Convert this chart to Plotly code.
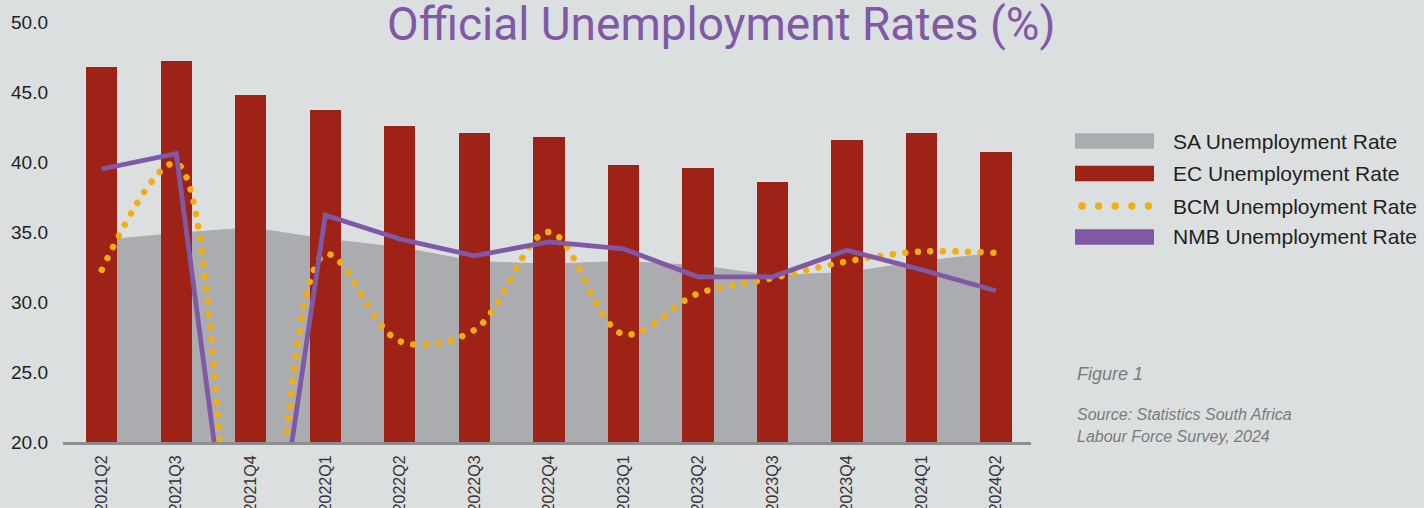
import plotly.graph_objects as go

# ---------------- data ----------------
quarters = ["2021Q2", "2021Q3", "2021Q4", "2022Q1", "2022Q2", "2022Q3", "2022Q4",
            "2023Q1", "2023Q2", "2023Q3", "2023Q4", "2024Q1", "2024Q2"]
sa_rate = [34.4, 34.9, 35.3, 34.5, 33.9, 32.9, 32.7, 32.9, 32.6, 31.9, 32.1, 32.9, 33.5]
ec_rate = [46.8, 47.2, 44.8, 43.7, 42.6, 42.1, 41.8, 39.8, 39.6, 38.6, 41.6, 42.1, 40.7]
bcm_rate = [32.3, 39.9, 0.0, 33.4, 27.2, 28.0, 35.0, 27.7, 30.6, 31.7, 32.9, 33.6, 33.5]
nmb_rate = [39.5, 40.6, 0.0, 36.2, 34.5, 33.3, 34.3, 33.8, 31.8, 31.8, 33.7, 32.3, 30.8]
y_ticks = [20, 25, 30, 35, 40, 45, 50]
legend_labels = ["SA Unemployment Rate", "EC Unemployment Rate",
                 "BCM Unemployment Rate", "NMB Unemployment Rate"]
title_text = "Official Unemployment Rates (%)"
note_text = "Figure 1"
source_lines = ["Source: Statistics South Africa", "Labour Force Survey, 2024"]

# ---------------- style ----------------
BG = "#DCDFE0"
GREY = "#ABACAF"
RED = "#9E2316"
ORANGE = "#F2AE0E"
PURPLE = "#7F59A5"
FONT = "Liberation Sans, Arial, sans-serif"

W, H = 1424, 508
L, R, T, B = 63, 393, 22, 66
PW, PH = W - L - R, H - T - B
XR = [-0.52, 12.47]
YR = [20, 50]


def px(x):
    return (x - L) / PW


def py(y):
    return (H - B - y) / PH


fig = go.Figure()

# SA area on base axes (drawn under bars)
fig.add_trace(go.Scatter(
    x=quarters, y=sa_rate, mode="lines", fill="tozeroy",
    fillcolor=GREY, line=dict(color=GREY, width=1),
    name=legend_labels[0], showlegend=False, hoverinfo="x+y",
    xaxis="x", yaxis="y"))

# EC bars on overlay axes
fig.add_trace(go.Bar(
    x=quarters, y=ec_rate, marker=dict(color=RED, line=dict(width=0)),
    width=0.42, name=legend_labels[1], showlegend=False,
    xaxis="x2", yaxis="y2"))

# BCM dotted smooth line
fig.add_trace(go.Scatter(
    x=quarters, y=bcm_rate, mode="lines",
    line=dict(color=ORANGE, width=6.5, dash="5px,8px", shape="spline", smoothing=1.0),
    name=legend_labels[2], showlegend=False,
    xaxis="x2", yaxis="y2"))

# NMB solid line
fig.add_trace(go.Scatter(
    x=quarters, y=nmb_rate, mode="lines",
    line=dict(color=PURPLE, width=4.8),
    name=legend_labels[3], showlegend=False,
    xaxis="x2", yaxis="y2"))

shapes = []
annotations = []

# custom legend
rows_y = [141, 173.5, 206, 237]
sx0, sx1 = 1075, 1154
for i, (lab, yc) in enumerate(zip(legend_labels, rows_y)):
    if i == 2:
        for k in range(5):
            cx = 1082 + k * 16.6
            shapes.append(dict(type="circle", xref="paper", yref="paper",
                               x0=px(cx - 3.7), x1=px(cx + 3.7),
                               y0=py(yc + 3.7), y1=py(yc - 3.7),
                               fillcolor=ORANGE, line=dict(width=0)))
    else:
        col = [GREY, RED, None, PURPLE][i]
        shapes.append(dict(type="rect", xref="paper", yref="paper",
                           x0=px(sx0), x1=px(sx1), y0=py(yc + 7.8), y1=py(yc - 7.8),
                           fillcolor=col, line=dict(width=0)))
    annotations.append(dict(text=lab, xref="paper", yref="paper",
                            x=px(1171), y=py(yc), xanchor="left", yanchor="middle",
                            showarrow=False, font=dict(family=FONT, size=21, color="#231F20")))

# title
annotations.append(dict(text=title_text, xref="paper", yref="paper",
                        x=px(721), y=py(24), xanchor="center", yanchor="middle",
                        showarrow=False,
                        font=dict(family="Roboto, Liberation Sans, sans-serif",
                                  size=46, color=PURPLE)))

# figure note and source
annotations.append(dict(text="<i>" + note_text + "</i>", xref="paper", yref="paper",
                        x=px(1075), y=py(374), xanchor="left", yanchor="middle",
                        showarrow=False, font=dict(family=FONT, size=18, color="#7A7B7D")))
for j, line in enumerate(source_lines):
    annotations.append(dict(text="<i>" + line + "</i>", xref="paper", yref="paper",
                            x=px(1075), y=py(414 + j * 22.7), xanchor="left", yanchor="middle",
                            showarrow=False, font=dict(family=FONT, size=16, color="#7A7B7D")))

fig.update_layout(
    width=W, height=H,
    margin=dict(l=L, r=R, t=T, b=B, autoexpand=False),
    paper_bgcolor=BG, plot_bgcolor=BG,
    showlegend=False,
    bargap=0,
    xaxis=dict(type="category", categoryorder="array", categoryarray=quarters,
               range=XR, showgrid=False, zeroline=False,
               showline=True, linecolor="#8C8D8F", linewidth=3,
               ticks="", tickangle=-90, ticklabelstandoff=4,
               tickfont=dict(family=FONT, size=16, color="#333333")),
    yaxis=dict(range=YR, tickvals=y_ticks, ticktext=[f"{v:.1f}" for v in y_ticks],
               showgrid=False, zeroline=False, showline=False, ticks="",
               ticklabelstandoff=14,
               tickfont=dict(family=FONT, size=19, color="#231F20")),
    xaxis2=dict(type="category", categoryorder="array", categoryarray=quarters,
                range=XR, overlaying="x", visible=False),
    yaxis2=dict(range=YR, overlaying="y", visible=False),
    shapes=shapes,
    annotations=annotations,
)

post = """
document.body.style.margin = '0';
document.body.style.padding = '0';
document.body.style.background = '#DCDFE0';
document.querySelectorAll('.scatterlayer .trace path.js-line').forEach(function (p) {
  var d = p.style.strokeDasharray;
  if (d && d !== 'none' && d !== '') {
    p.style.strokeLinecap = 'round';
    p.style.strokeDasharray = '0.01px, 12.6px';
  }
});
"""

fig.write_html("out.html", post_script=post, config={"displayModeBar": False})
